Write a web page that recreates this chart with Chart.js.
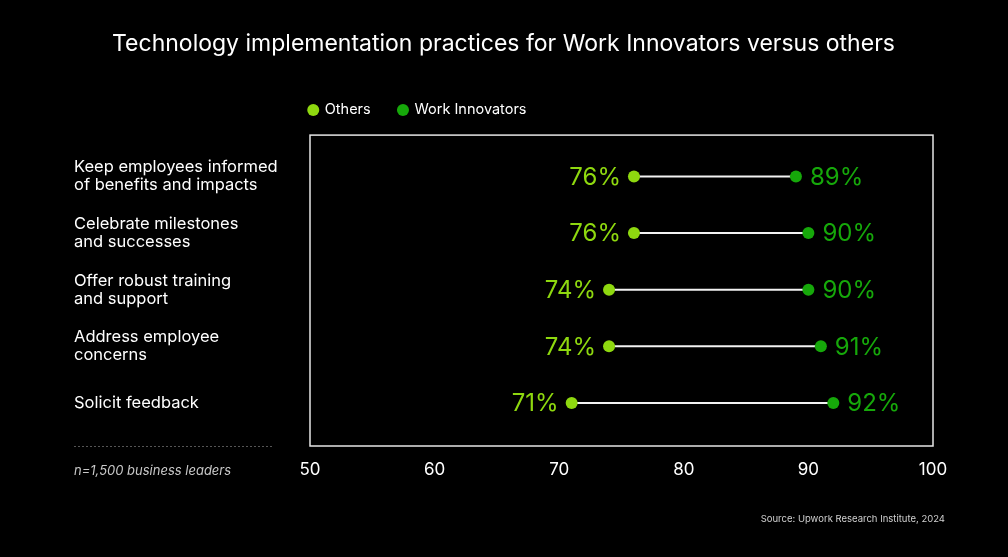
<!DOCTYPE html>
<html><head><meta charset="utf-8">
<script src="https://cdn.jsdelivr.net/npm/chart.js@4"></script>
<style>html,body{margin:0;padding:0;background:#000;overflow:hidden}#wrap{width:1008px;height:557px;position:relative}</style>
</head><body><div id="wrap"><canvas id="c" width="1008" height="557"></canvas></div>
<script>
const categories = [
  ["Keep employees informed", "of benefits and impacts"],
  ["Celebrate milestones", "and successes"],
  ["Offer robust training", "and support"],
  ["Address employee", "concerns"],
  ["Solicit feedback"]
];
const othersValues = [76, 76, 74, 74, 71];
const innovatorsValues = [89, 90, 90, 91, 92];
const xTickValues = [50, 60, 70, 80, 90, 100];
const seriesNames = ["Others", "Work Innovators"];
const titleText = "Technology implementation practices for Work Innovators versus others";
const footnoteText = "n=1,500 business leaders";
const sourceText = "Source: Upwork Research Institute, 2024";

const LIME = "#8ed80f";
const GREEN = "#16a80a";
const FONT = "Inter, 'Noto Sans', sans-serif";
const LEGEND_PAD = 28;
const LEGEND_FONT = 14.5;

const legendShiftPlugin = {
  id: "legendShift",
  afterLayout(chart) {
    const lg = chart.legend;
    if (!lg) return;
    const dx = (chart.chartArea.left - 1) - (lg.left + LEGEND_PAD);
    lg.left += dx; lg.right += dx;
    const newTop = 110 - LEGEND_PAD - LEGEND_FONT / 2;
    const dy = newTop - lg.top;
    lg.top += dy; lg.bottom += dy;
  }
};

const connectorPlugin = {
  id: "connectors",
  beforeDatasetsDraw(chart) {
    const ctx = chart.ctx, xs = chart.scales.x, ys = chart.scales.y;
    ctx.save();
    ctx.strokeStyle = "#f2f2f2";
    ctx.lineWidth = 2;
    othersValues.forEach((v, i) => {
      const y = ys.getPixelForValue(i);
      ctx.beginPath();
      ctx.moveTo(xs.getPixelForValue(v), y);
      ctx.lineTo(xs.getPixelForValue(innovatorsValues[i]), y);
      ctx.stroke();
    });
    ctx.restore();
  }
};

const framePlugin = {
  id: "frame",
  afterDatasetsDraw(chart) {
    const ctx = chart.ctx, a = chart.chartArea;
    ctx.save();
    ctx.strokeStyle = "#e6e6e6";
    ctx.lineWidth = 1.5;
    ctx.strokeRect(a.left, a.top, a.right - a.left, a.bottom - a.top);
    // value labels
    ctx.font = "400 24px " + FONT;
    ctx.textBaseline = "middle";
    const m0 = chart.getDatasetMeta(0), m1 = chart.getDatasetMeta(1);
    m0.data.forEach((p, i) => {
      ctx.fillStyle = LIME; ctx.textAlign = "right";
      ctx.fillText(othersValues[i] + "%", p.x - 13, p.y + 1);
    });
    m1.data.forEach((p, i) => {
      ctx.fillStyle = GREEN; ctx.textAlign = "left";
      ctx.fillText(innovatorsValues[i] + "%", p.x + 14, p.y + 1);
    });
    // dotted separator
    ctx.strokeStyle = "#555";
    ctx.lineWidth = 1;
    ctx.setLineDash([2, 2]);
    ctx.beginPath();
    ctx.moveTo(74, a.bottom + 0.5);
    ctx.lineTo(272, a.bottom + 0.5);
    ctx.stroke();
    ctx.setLineDash([]);
    // footnote
    ctx.fillStyle = "#c8c8c8";
    ctx.font = "italic 13px " + FONT;
    ctx.textAlign = "left";
    ctx.fillText(footnoteText, 74, 471);
    // source
    ctx.fillStyle = "#cfcfcf";
    ctx.font = "9.5px " + FONT;
    ctx.textAlign = "right";
    ctx.fillText(sourceText, 945, 519);
    ctx.restore();
  }
};

new Chart(document.getElementById("c"), {
  type: "scatter",
  data: {
    datasets: [
      {
        label: seriesNames[0],
        data: othersValues.map((v, i) => ({ x: v, y: i })),
        backgroundColor: LIME, borderColor: LIME,
        pointRadius: 6, pointHoverRadius: 6, borderWidth: 0
      },
      {
        label: seriesNames[1],
        data: innovatorsValues.map((v, i) => ({ x: v, y: i })),
        backgroundColor: GREEN, borderColor: GREEN,
        pointRadius: 6, pointHoverRadius: 6, borderWidth: 0
      }
    ]
  },
  options: {
    responsive: false,
    animation: false,
    layout: { padding: { left: 74, right: 75, top: 0, bottom: 71 } },
    plugins: {
      title: {
        display: true, text: titleText, color: "#ffffff",
        font: { family: FONT, size: 23, weight: "400" },
        padding: { top: 30, bottom: 25 }
      },
      legend: {
        display: true, position: "top", align: "start", fullSize: false,
        labels: {
          color: "#ffffff", usePointStyle: true, pointStyle: "circle",
          boxWidth: 8.5, boxHeight: 8.5, padding: LEGEND_PAD,
          font: { family: FONT, size: LEGEND_FONT }
        }
      },
      tooltip: { enabled: false }
    },
    scales: {
      x: {
        type: "linear", min: 50, max: 100,
        afterBuildTicks: (s) => { s.ticks = xTickValues.map(v => ({ value: v })); },
        afterFit: (s) => { s.height = 40; },
        grid: { display: false, drawTicks: false },
        border: { display: false },
        ticks: { color: "#ffffff", padding: 14, font: { family: FONT, size: 17 } }
      },
      y: {
        type: "linear", min: -0.73, max: 4.76, reverse: true,
        afterBuildTicks: (s) => { s.ticks = categories.map((c, i) => ({ value: i })); },
        afterFit: (s) => { s.width = 236; },
        grid: { display: false, drawTicks: false },
        border: { display: false },
        ticks: {
          color: "#ffffff", crossAlign: "far", padding: 0,
          font: { family: FONT, size: 16.5, lineHeight: 1.1 },
          callback: (v) => categories[v] || ""
        }
      }
    }
  },
  plugins: [legendShiftPlugin, connectorPlugin, framePlugin]
});
</script>
</body></html>
